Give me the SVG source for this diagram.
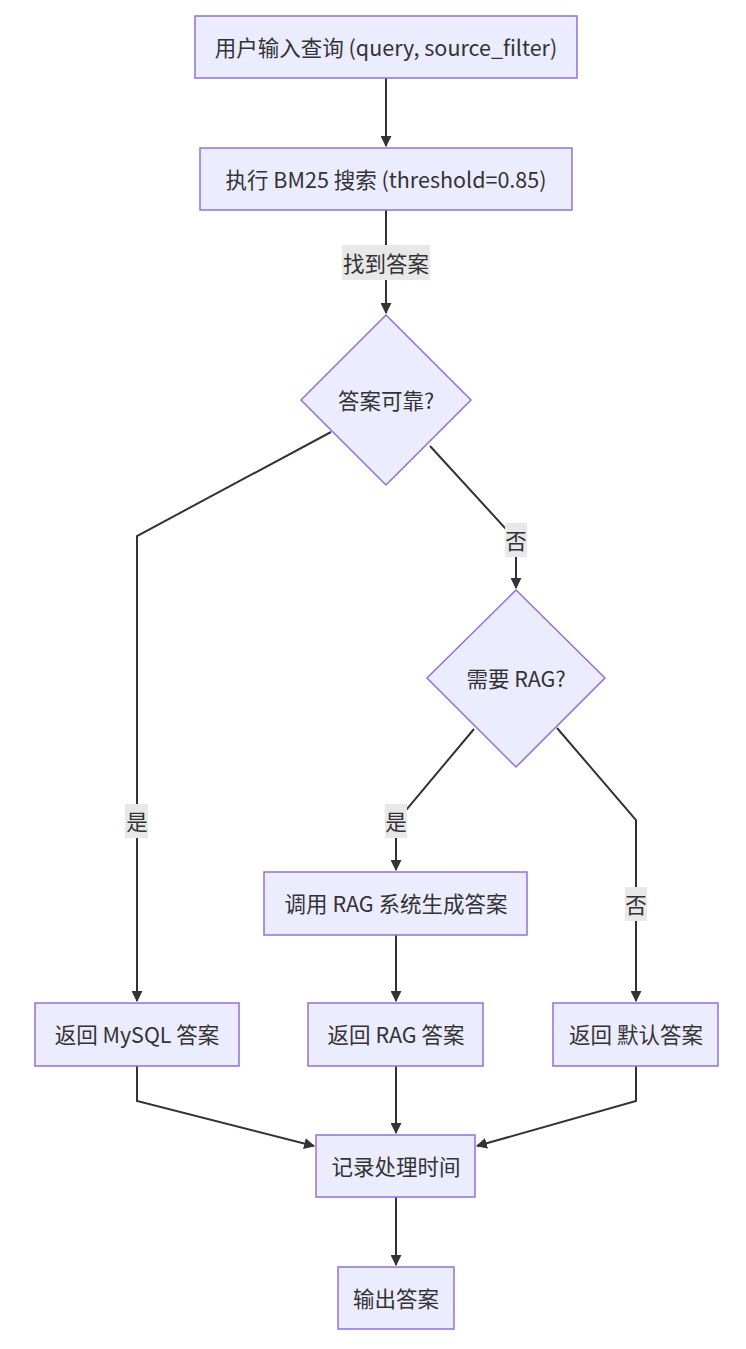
<svg xmlns="http://www.w3.org/2000/svg" width="746" height="1349" viewBox="0 0 746 1349">
<defs>
<style>
.node rect, .node polygon { fill:#ECECFF; stroke:#9370DB; stroke-width:1.5; }
.node text, .lbl text { font-family:"Noto Sans CJK SC","Liberation Sans",sans-serif; font-size:21.5px; fill:#333; text-anchor:middle; dominant-baseline:central; }
.edges path { fill:none; stroke:#333; stroke-width:2; }
.lbl rect { fill:#e8e8e8; stroke:none; }
</style>
<marker id="arrow" viewBox="0 0 10 10" refX="9" refY="5" markerWidth="11" markerHeight="11" markerUnits="userSpaceOnUse" orient="auto">
<path d="M0,0 L10,5 L0,10 z" fill="#333"/>
</marker>
</defs>
<rect width="746" height="1349" fill="#fff"/>
<g class="edges">
<path d="M386,78 L386,146" marker-end="url(#arrow)"/>
<path d="M386,210 L386,313" marker-end="url(#arrow)"/>
<path d="M331,432 L137,536 L137,1001" marker-end="url(#arrow)"/>
<path d="M430,446 L516,540 L516,588" marker-end="url(#arrow)"/>
<path d="M474,729 L396,822 L396,870" marker-end="url(#arrow)"/>
<path d="M557,728 L636,820 L636,1001" marker-end="url(#arrow)"/>
<path d="M396,935 L396,1001" marker-end="url(#arrow)"/>
<path d="M137,1066 L137,1101 L314,1146" marker-end="url(#arrow)"/>
<path d="M396,1066 L396,1133" marker-end="url(#arrow)"/>
<path d="M636,1066 L636,1101 L477,1146" marker-end="url(#arrow)"/>
<path d="M396,1197 L396,1265" marker-end="url(#arrow)"/>
</g>
<g class="lbl" id="lbl-found"><rect x="342" y="245" width="88" height="35"/><text x="386" y="262">找到答案</text></g>
<g class="lbl" id="lbl-yes1"><rect x="125" y="804" width="23" height="34"/><text x="137" y="820">是</text></g>
<g class="lbl" id="lbl-no1"><rect x="505" y="523" width="22" height="34"/><text x="516" y="539">否</text></g>
<g class="lbl" id="lbl-yes2"><rect x="385" y="804" width="22" height="34"/><text x="396" y="820">是</text></g>
<g class="lbl" id="lbl-no2"><rect x="625" y="887" width="22" height="34"/><text x="636" y="903">否</text></g>
<g class="node" id="A"><rect x="195" y="16" width="382" height="62"/><text x="386" y="46">用户输入查询 (query, source_filter)</text></g>
<g class="node" id="B"><rect x="200" y="148" width="372" height="62"/><text x="386" y="178">执行 BM25 搜索 (threshold=0.85)</text></g>
<g class="node" id="C"><polygon points="386,315 471,400 386,485 301,400"/><text x="386" y="399">答案可靠?</text></g>
<g class="node" id="D"><polygon points="516,590 605,678 516,767 427,678"/><text x="516" y="677">需要 RAG?</text></g>
<g class="node" id="E"><rect x="264" y="872" width="263" height="63"/><text x="396" y="902">调用 RAG 系统生成答案</text></g>
<g class="node" id="F"><rect x="35" y="1003" width="204" height="63"/><text x="137" y="1033">返回 MySQL 答案</text></g>
<g class="node" id="G"><rect x="308" y="1003" width="175" height="63"/><text x="396" y="1033">返回 RAG 答案</text></g>
<g class="node" id="H"><rect x="553" y="1003" width="165" height="63"/><text x="636" y="1033">返回 默认答案</text></g>
<g class="node" id="I"><rect x="316" y="1135" width="159" height="62"/><text x="396" y="1165">记录处理时间</text></g>
<g class="node" id="J"><rect x="338" y="1267" width="116" height="62"/><text x="396" y="1297">输出答案</text></g>
</svg>
